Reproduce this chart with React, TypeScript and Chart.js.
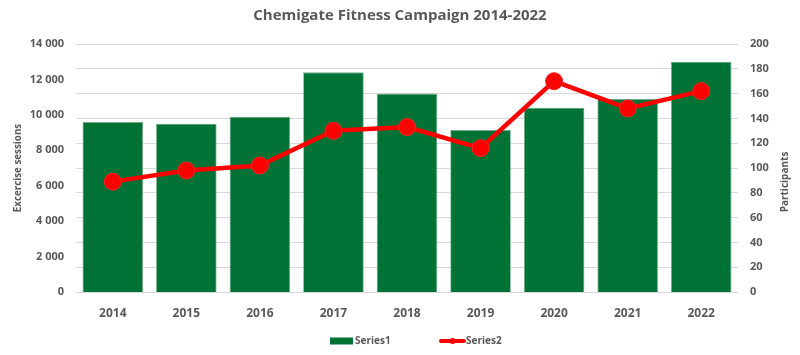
import React, { useEffect, useRef } from "react";
import { Chart, registerables } from "chart.js";

Chart.register(...registerables);

const categories = ["2014", "2015", "2016", "2017", "2018", "2019", "2020", "2021", "2022"];
const series1 = [9600, 9500, 9900, 12400, 11200, 9150, 10400, 10900, 13000];
const series2 = [89, 98, 102, 130, 133, 116, 170, 148, 162];
const leftTicks = { min: 0, max: 14000, step: 2000 };
const rightTicks = { min: 0, max: 200, step: 20 };
const titleText = "Chemigate Fitness Campaign 2014-2022";
const leftTitle = "Excercise sessions";
const rightTitle = "Participants";
const seriesNames = ["Series1", "Series2"];

const GRAY = "#595959";
const GREEN = "#007236";
const RED = "#ff0000";
const FONT = "'Open Sans', Lato, sans-serif";

const fmt = (v: number) => String(v).replace(/\B(?=(\d{3})+(?!\d))/g, " ");

const legendPlugin = {
  id: "customLegend",
  afterDraw(chart: any) {
    const ctx = chart.ctx;
    ctx.save();
    ctx.font = `bold 10px ${FONT}`;
    ctx.textBaseline = "middle";
    const y = 341;
    ctx.fillStyle = GREEN;
    ctx.fillRect(330, y - 3.5, 23, 7);
    ctx.fillStyle = GRAY;
    ctx.fillText(seriesNames[0], 355, y);
    ctx.strokeStyle = RED;
    ctx.lineWidth = 4;
    ctx.lineCap = "round";
    ctx.beginPath();
    ctx.moveTo(441, y);
    ctx.lineTo(464, y);
    ctx.stroke();
    ctx.fillStyle = RED;
    ctx.beginPath();
    ctx.arc(452.5, y, 3, 0, Math.PI * 2);
    ctx.fill();
    ctx.fillStyle = GRAY;
    ctx.fillText(seriesNames[1], 466, y);
    // right axis title, reading bottom-to-top
    ctx.translate(785, 182);
    ctx.rotate(-Math.PI / 2);
    ctx.textAlign = "center";
    ctx.font = `bold 10px ${FONT}`;
    ctx.fillText(rightTitle, 0, 0);
    ctx.restore();
  },
};

export default function App() {
  const ref = useRef<HTMLCanvasElement | null>(null);
  useEffect(() => {
    document.body.style.margin = "0";
    const canvas = ref.current;
    if (!canvas) return;
    const chart = new Chart(canvas, {
      type: "bar",
      data: {
        labels: categories,
        datasets: [
          {
            type: "line",
            label: seriesNames[1],
            data: series2,
            yAxisID: "y1",
            borderColor: RED,
            backgroundColor: RED,
            borderWidth: 4.5,
            pointRadius: 8.5,
            pointBackgroundColor: RED,
            pointBorderColor: "#f22",
            pointBorderWidth: 1,
            tension: 0,
            order: 0,
          } as any,
          {
            type: "bar",
            label: seriesNames[0],
            data: series1,
            yAxisID: "y",
            backgroundColor: GREEN,
            borderColor: "#6fae86",
            borderWidth: 0.8,
            categoryPercentage: 1,
            barPercentage: 0.823,
            order: 1,
          } as any,
        ],
      },
      plugins: [legendPlugin],
      options: {
        responsive: false,
        animation: false,
        layout: { padding: { left: 0, right: 0, top: 0, bottom: 0 } },
        plugins: {
          legend: { display: false },
          tooltip: { enabled: false },
          title: {
            display: true,
            text: titleText,
            color: GRAY,
            font: { family: FONT, size: 15, weight: "bold" },
            padding: { top: 7, bottom: 19 },
          },
        },
        scales: {
          x: {
            grid: { display: false, drawTicks: false },
            border: { display: false },
            ticks: { color: GRAY, font: { family: FONT, size: 12, weight: "bold" }, padding: 14 },
            afterFit: (s: any) => {
              s.height = 63;
            },
          },
          y: {
            position: "left",
            min: leftTicks.min,
            max: leftTicks.max,
            grid: { display: false, drawTicks: false },
            border: { display: false },
            ticks: {
              stepSize: leftTicks.step,
              color: GRAY,
              font: { family: FONT, size: 11, weight: "bold" },
              padding: 12,
              callback: (v: any) => fmt(Number(v)),
            },
            title: {
              display: true,
              text: leftTitle,
              color: GRAY,
              font: { family: FONT, size: 9.8, weight: "bold" },
              padding: { top: 12, bottom: 0 },
            },
            afterFit: (s: any) => {
              s.width = 76;
            },
          },
          y1: {
            position: "right",
            min: rightTicks.min,
            max: rightTicks.max,
            grid: { display: true, color: "#d9d9d9", lineWidth: 1, drawTicks: false },
            border: { display: false },
            ticks: {
              stepSize: rightTicks.step,
              color: GRAY,
              font: { family: FONT, size: 11, weight: "bold" },
              padding: 12,
            },
            title: { display: false },
            afterFit: (s: any) => {
              s.width = 62;
            },
          },
        },
      } as any,
    });
    return () => chart.destroy();
  }, []);
  return (
    <div style={{ width: 800, height: 355 }}>
      <canvas ref={ref} width={800} height={355} style={{ width: 800, height: 355, display: "block" }} />
    </div>
  );
}
